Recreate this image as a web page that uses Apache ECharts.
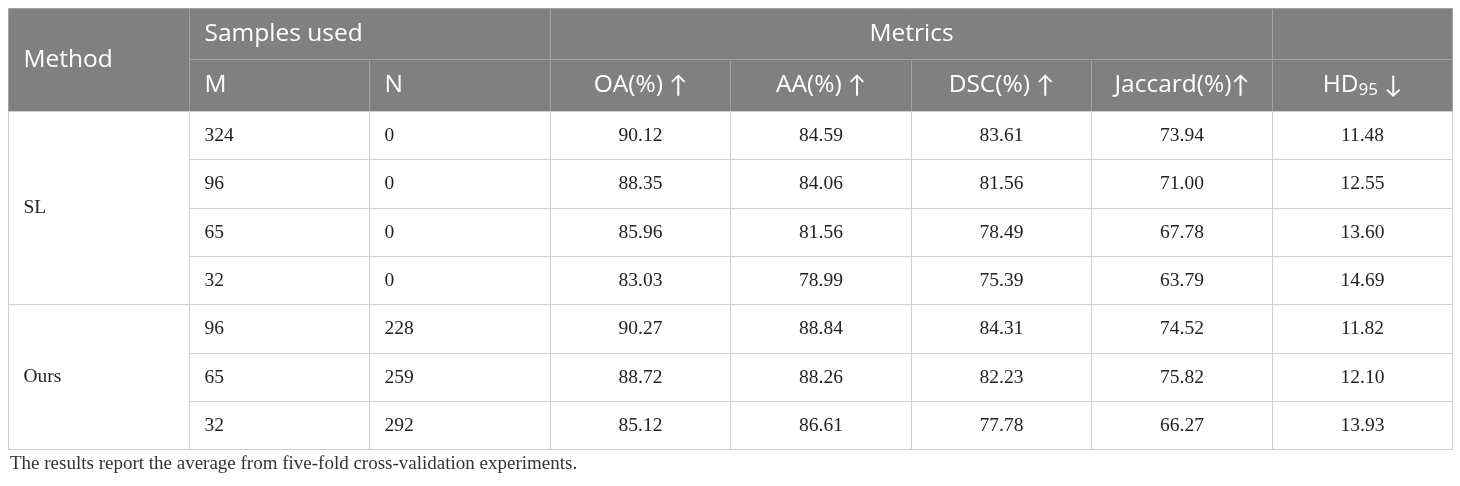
<!DOCTYPE html>
<html><head><meta charset="utf-8">
<script src="https://cdn.jsdelivr.net/npm/echarts@6/dist/echarts.min.js"></script>
<style>html,body{margin:0;padding:0;background:#fff}#c{width:1460px;height:486px}</style>
</head><body><div id="c"></div>
<script>
// ---- data ----
const methods = ['SL', 'Ours'];
const methodRows = [4, 3];
const colM = [324, 96, 65, 32, 96, 65, 32];
const colN = [0, 0, 0, 0, 228, 259, 292];
const colOA = ['90.12', '88.35', '85.96', '83.03', '90.27', '88.72', '85.12'];
const colAA = ['84.59', '84.06', '81.56', '78.99', '88.84', '88.26', '86.61'];
const colDSC = ['83.61', '81.56', '78.49', '75.39', '84.31', '82.23', '77.78'];
const colJac = ['73.94', '71.00', '67.78', '63.79', '74.52', '75.82', '66.27'];
const colHD = ['11.48', '12.55', '13.60', '14.69', '11.82', '12.10', '13.93'];
const groupHeaders = ['Method', 'Samples used', 'Metrics', ''];
const subHeaders = ['M', 'N', 'OA(%) {ar|↑}', 'AA(%) {ar|↑}', 'DSC(%) {ar|↑}', 'Jaccard(%){ar|↑}', 'HD{sub|95} {ar|↓}'];
const footnote = 'The results report the average from five-fold cross-validation experiments.';

// ---- layout (row heights in axis units) ----
const rowHeights = [51, 52, 48.3, 48.3, 48.3, 48.3, 48.3, 48.3, 48.3];
const rowEdges = [0];
rowHeights.forEach(h => rowEdges.push(rowEdges[rowEdges.length - 1] + h));
const nCols = 8;

const cells = [];
function add(c0, c1, r0, r1, text, align, hdr) {
  cells.push({ c0, c1, y0: rowEdges[r0], y1: rowEdges[r1], text: String(text), align, hdr });
}
// header
add(0, 1, 0, 2, groupHeaders[0], 'left', true);
add(1, 3, 0, 1, groupHeaders[1], 'left', true);
add(3, 7, 0, 1, groupHeaders[2], 'center', true);
add(7, 8, 0, 1, groupHeaders[3], 'center', true);
subHeaders.forEach((t, i) => add(i + 1, i + 2, 1, 2, t, i < 2 ? 'left' : 'center', true));
// body
let r = 2;
methods.forEach((m, i) => { add(0, 1, r, r + methodRows[i], m, 'left', false); r += methodRows[i]; });
const metricCols = [colOA, colAA, colDSC, colJac, colHD];
colM.forEach((v, i) => {
  const row = i + 2;
  add(1, 2, row, row + 1, v, 'left', false);
  add(2, 3, row, row + 1, colN[i], 'left', false);
  metricCols.forEach((col, j) => add(3 + j, 4 + j, row, row + 1, col[i], 'center', false));
});

const chart = echarts.init(document.getElementById('c'), null, { renderer: 'canvas' });
chart.setOption({
  animation: false,
  backgroundColor: '#ffffff',
  title: {
    text: footnote, left: 5, top: 450,
    textStyle: { fontFamily: 'Liberation Serif', fontSize: 19, fontWeight: 'normal', color: '#333333' }
  },
  grid: { left: 8, right: 8, top: 8, height: rowEdges[rowEdges.length - 1] },
  xAxis: { type: 'value', min: 0, max: nCols, show: false },
  yAxis: { type: 'value', min: 0, max: rowEdges[rowEdges.length - 1], inverse: true, show: false },
  series: [{
    type: 'custom',
    data: cells.map((c, i) => [i]),
    renderItem: function (params, api) {
      const c = cells[api.value(0)];
      const p0 = api.coord([c.c0, c.y0]);
      const p1 = api.coord([c.c1, c.y1]);
      const x = Math.round(p0[0]) + 0.5, y = Math.round(p0[1]) + 0.5;
      const w = Math.round(p1[0]) - Math.round(p0[0]), h = Math.round(p1[1]) - Math.round(p0[1]);
      const tx = c.align === 'left' ? x + 15 : x + w / 2;
      return {
        type: 'group',
        children: [
          { type: 'rect', shape: { x, y, width: w, height: h },
            style: { fill: c.hdr ? '#7f807f' : '#ffffff', stroke: c.hdr ? '#a2a3a2' : '#cfcfcf', lineWidth: 1 } },
          { type: 'text', x: tx, y: y + h / 2,
            style: {
              text: c.text, align: c.align, verticalAlign: 'middle',
              fill: c.hdr ? '#ffffff' : '#222222',
              font: c.hdr ? '24.5px "Open Sans"' : '19.5px "Liberation Serif"',
              rich: {
                sub: { fontFamily: 'Open Sans', fontSize: 17, fill: '#ffffff', padding: [9, 0, 0, 0] },
                ar: { fontFamily: 'Lato', fontSize: 24, fill: '#ffffff' }
              }
            } }
        ]
      };
    }
  }]
});
</script></body></html>
